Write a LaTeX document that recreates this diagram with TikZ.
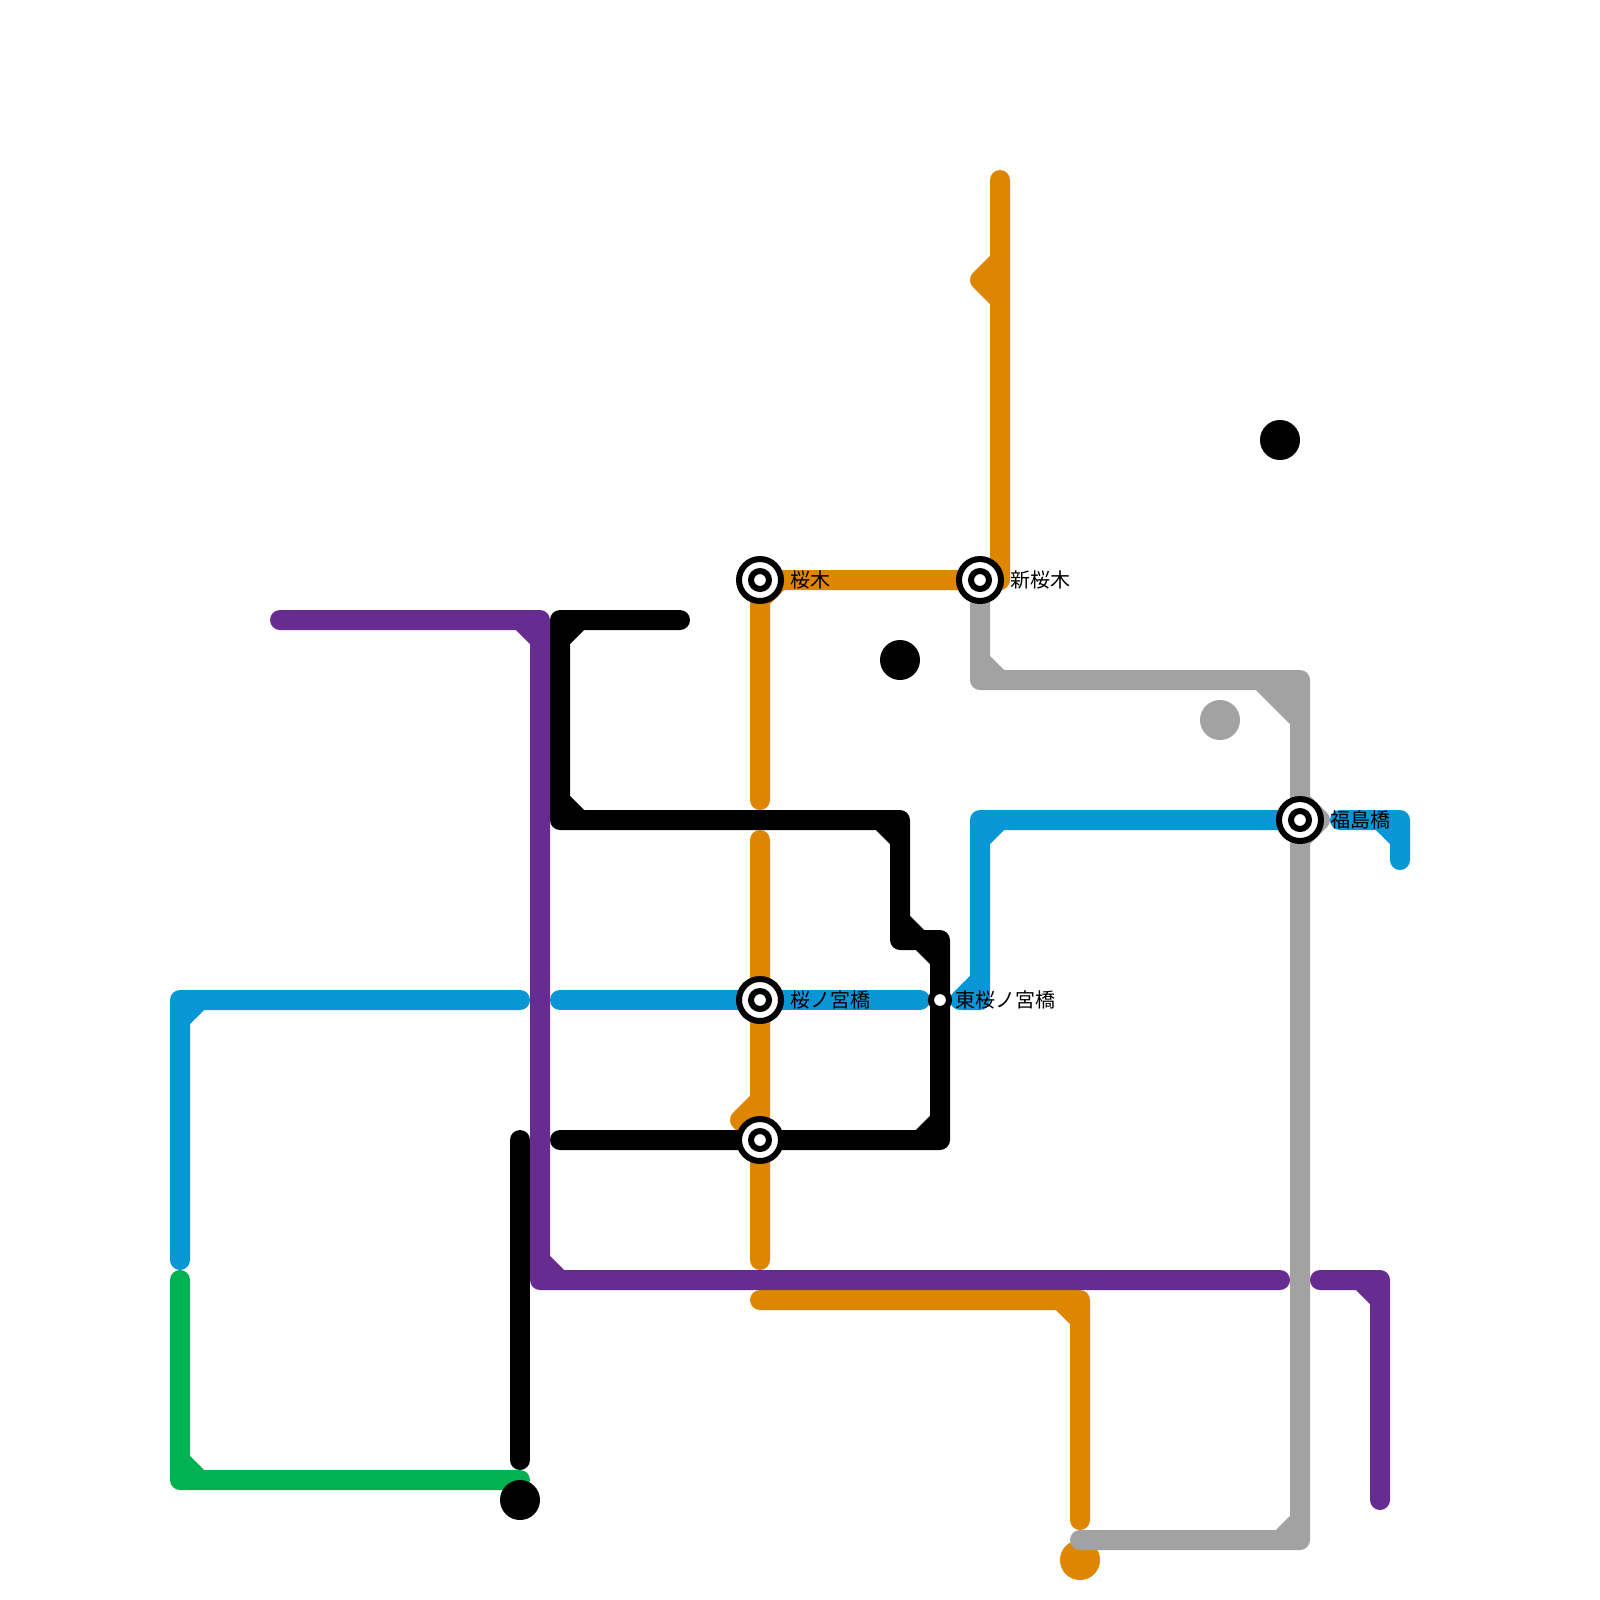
\documentclass[tikz,border=0pt]{standalone}
\usepackage{fontspec}
\usepackage{xcolor}
\newfontfamily\cjkfont{Noto Sans CJK JP}
\definecolor{lineOrange}{HTML}{DF8600}
\definecolor{lineBlue}{HTML}{0896D7}
\definecolor{linePurple}{HTML}{662C90}
\definecolor{lineGreen}{HTML}{00B251}
\definecolor{lineGray}{HTML}{A2A2A2}
\tikzset{
  routeLine/.style={line width=5.625bp, line cap=round, line join=round},
  orangeLine/.style={routeLine, draw=lineOrange},
  blueLine/.style={routeLine, draw=lineBlue},
  purpleLine/.style={routeLine, draw=linePurple},
  greenLine/.style={routeLine, draw=lineGreen},
  grayLine/.style={routeLine, draw=lineGray},
  blackLine/.style={routeLine, draw=black},
  stationRing/.style={circle, draw=black, fill=white, line width=1.6875bp, minimum size=11.8125bp, inner sep=0pt},
  stationCore/.style={circle, draw=black, fill=white, line width=1.6875bp, minimum size=5.0625bp, inner sep=0pt},
  bigDot/.style={circle, minimum size=11.25bp, inner sep=0pt},
  stationLabel/.style={anchor=west, inner sep=0pt, text=black, font=\cjkfont\fontsize{5.625bp}{6.8bp}\selectfont}
}
\begin{document}
\begin{tikzpicture}[x=0.28125bp, y=-0.28125bp]
  \useasboundingbox (0,0) rectangle (1600,1600);

  \coordinate (sakuragiPt) at (760,580);
  \coordinate (shinSakuragiPt) at (980,580);
  \coordinate (miyanohashiPt) at (760,1000);
  \coordinate (higashiPt) at (940,1000);
  \coordinate (fukushimaPt) at (1300,820);
  \coordinate (crossPt) at (760,1140);

  \node[bigDot, fill=lineOrange] (orangeDot) at (1080,1560) {};

  \draw[orangeLine] (1000,180) -- (1000,580) -- (sakuragiPt) -- (760,800)
    (1000,260) -- (980,280) -- (1000,300)
    (760,600) -- (780,580);
  \draw[orangeLine] (760,840) -- (miyanohashiPt) -- (crossPt) -- (760,1260)
    (760,1100) -- (740,1120) -- (760,1140);
  \draw[orangeLine] (760,1300) -- (1080,1300) -- (1080,1520)
    (1060,1300) -- (1080,1320);

  \draw[grayLine] (shinSakuragiPt) -- (980,680) -- (1300,680) -- (1300,1540) -- (1080,1540)
    (980,660) -- (1000,680)
    (1260,680) -- (1300,720)
    (1280,680) -- (1300,700)
    (1300,800) -- (1320,820) -- (1300,840)
    (1300,1520) -- (1280,1540);

  \draw[blueLine] (520,1000) -- (180,1000) -- (180,1260)
    (180,1020) -- (200,1000);
  \draw[blueLine] (560,1000) -- (miyanohashiPt) -- (920,1000);
  \draw[blueLine] (960,1000) -- (980,1000) -- (980,820) -- (fukushimaPt)
    (980,980) -- (960,1000)
    (980,840) -- (1000,820);
  \draw[blueLine] (1340,820) -- (1400,820) -- (1400,860)
    (1380,820) -- (1400,840);

  \draw[greenLine] (180,1280) -- (180,1480) -- (520,1480)
    (180,1460) -- (200,1480);

  \draw[blackLine] (680,620) -- (560,620) -- (560,820) -- (900,820) -- (900,940) -- (940,940) -- (940,1140) -- (crossPt) -- (560,1140)
    (560,640) -- (580,620)
    (560,800) -- (580,820)
    (880,820) -- (900,840)
    (900,920) -- (920,940)
    (920,940) -- (940,960)
    (940,1120) -- (920,1140);
  \draw[blackLine] (520,1140) -- (520,1460);

  \draw[purpleLine] (280,620) -- (540,620) -- (540,1280) -- (1280,1280)
    (520,620) -- (540,640)
    (540,1260) -- (560,1280);
  \draw[purpleLine] (1320,1280) -- (1380,1280) -- (1380,1500)
    (1360,1280) -- (1380,1300);

  \node[bigDot, fill=black] (dotCenter) at (900,660) {};
  \node[bigDot, fill=black] (dotEast) at (1280,440) {};
  \node[bigDot, fill=black] (dotSouth) at (520,1500) {};
  \node[bigDot, fill=lineGray] (dotGray) at (1220,720) {};

  \node[stationRing] (sakuragi) at (sakuragiPt) {};
  \node[stationCore] (sakuragiCore) at (sakuragiPt) {};
  \node[stationRing] (shinSakuragi) at (shinSakuragiPt) {};
  \node[stationCore] (shinSakuragiCore) at (shinSakuragiPt) {};
  \node[stationRing] (miyanohashi) at (miyanohashiPt) {};
  \node[stationCore] (miyanohashiCore) at (miyanohashiPt) {};
  \node[stationRing] (cross) at (crossPt) {};
  \node[stationCore] (crossCore) at (crossPt) {};
  \node[stationRing] (fukushima) at (fukushimaPt) {};
  \node[stationCore] (fukushimaCore) at (fukushimaPt) {};
  \node[stationCore] (higashi) at (higashiPt) {};

  \node[stationLabel] (sakuragiLabel) at (790,580) {桜木};
  \node[stationLabel] (shinSakuragiLabel) at (1010,580) {新桜木};
  \node[stationLabel] (miyanohashiLabel) at (790,1000) {桜ノ宮橋};
  \node[stationLabel] (higashiLabel) at (955,1000) {東桜ノ宮橋};
  \node[stationLabel] (fukushimaLabel) at (1330,820) {福島橋};
\end{tikzpicture}
\end{document}
